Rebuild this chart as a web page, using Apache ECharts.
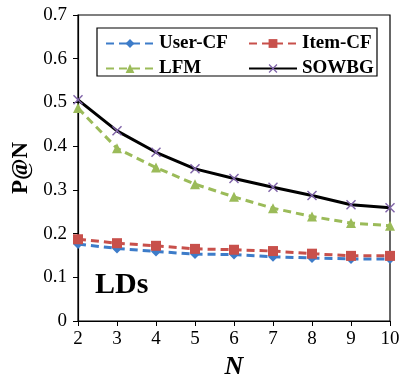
<!DOCTYPE html>
<html>
<head>
<meta charset="utf-8">
<script src="https://cdn.jsdelivr.net/npm/echarts@6/dist/echarts.min.js"></script>
<style>
  html, body { margin: 0; padding: 0; background: #fff; }
  #chart { width: 402px; height: 381px; }
</style>
</head>
<body>
<div id="chart"></div>
<script>
const nValues = [2, 3, 4, 5, 6, 7, 8, 9, 10];
const userCF = [0.176, 0.166, 0.159, 0.153, 0.152, 0.147, 0.144, 0.142, 0.142];
const itemCF = [0.187, 0.178, 0.172, 0.165, 0.163, 0.160, 0.154, 0.149, 0.149];
const lfm = [0.487, 0.395, 0.351, 0.313, 0.284, 0.258, 0.239, 0.224, 0.218];
const sowbg = [0.506, 0.435, 0.386, 0.348, 0.326, 0.306, 0.287, 0.266, 0.259];

const serif = "Liberation Serif, Times New Roman, serif";
const crossPath = "path://M0,1L1,0L5,4L9,0L10,1L6,5L10,9L9,10L5,6L1,10L0,9L4,5Z";

const pairs = (vals) => nValues.map((n, i) => [n, vals[i]]);

const chart = echarts.init(document.getElementById("chart"), null, { renderer: "canvas" });

function lineSeries(name, data, color, symbol, size, dashed) {
  return {
    name,
    type: "line",
    data: pairs(data),
    symbol,
    symbolSize: size,
    showAllSymbol: true,
    itemStyle: { color },
    lineStyle: { color: dashed ? color : "#000", width: 3, type: dashed ? [8, 5] : "solid" },
    z: dashed ? 2 : 3,
  };
}

const legendText = { fontFamily: serif, fontWeight: "bold", fontSize: 19, color: "#000" };

chart.setOption({
  animation: false,
  grid: {
    left: 78, right: 12, top: 15, bottom: 60,
    outerBoundsMode: "none",
    show: true, borderColor: "#000", borderWidth: 1.2,
  },
  legend: [
    {
      data: ["User-CF", "LFM"],
      orient: "vertical",
      left: 100,
      top: 29,
      itemWidth: 48,
      itemHeight: 11,
      itemGap: 6,
      textStyle: legendText,
    },
    {
      data: ["Item-CF", "SOWBG"],
      orient: "vertical",
      left: 243,
      top: 29,
      itemWidth: 48,
      itemHeight: 11,
      itemGap: 6,
      textStyle: legendText,
    },
  ],
  graphic: [
    {
      type: "rect",
      shape: { x: 97, y: 28, width: 280, height: 48 },
      style: { fill: "none", stroke: "#000", lineWidth: 1.2 },
      silent: true,
    },
    {
      type: "text",
      left: 95,
      top: 270,
      style: { text: "LDs", font: "bold 30px " + serif, fill: "#000" },
    },
  ],
  xAxis: {
    type: "value",
    min: 2,
    max: 10,
    interval: 1,
    name: "N",
    nameLocation: "middle",
    nameGap: 30,
    nameTextStyle: { fontFamily: serif, fontStyle: "italic", fontWeight: "bold", fontSize: 26, color: "#000" },
    axisLine: { lineStyle: { color: "#000", width: 1.2 } },
    axisTick: { show: true, inside: false, length: 5, lineStyle: { color: "#000" } },
    axisLabel: { fontFamily: serif, fontSize: 19, color: "#000", margin: 9 },
    splitLine: { show: false },
  },
  yAxis: {
    type: "value",
    min: 0,
    max: 0.7,
    interval: 0.1,
    name: "P@N",
    nameLocation: "middle",
    nameRotate: 90,
    nameGap: 44,
    nameTextStyle: { fontFamily: serif, fontWeight: "bold", fontSize: 23, color: "#000" },
    axisLine: { show: true, lineStyle: { color: "#000", width: 1.2 } },
    axisTick: { show: true, inside: false, length: 5, lineStyle: { color: "#000" } },
    axisLabel: { fontFamily: serif, fontSize: 19, color: "#000", margin: 11 },
    splitLine: { show: false },
  },
  series: [
    lineSeries("User-CF", userCF, "#3D7CC9", "diamond", 10, true),
    lineSeries("Item-CF", itemCF, "#C8504B", "rect", 10, true),
    lineSeries("LFM", lfm, "#9BBB59", "triangle", 10, true),
    lineSeries("SOWBG", sowbg, "#7F63A8", crossPath, 10, false),
  ],
});
</script>
</body>
</html>
